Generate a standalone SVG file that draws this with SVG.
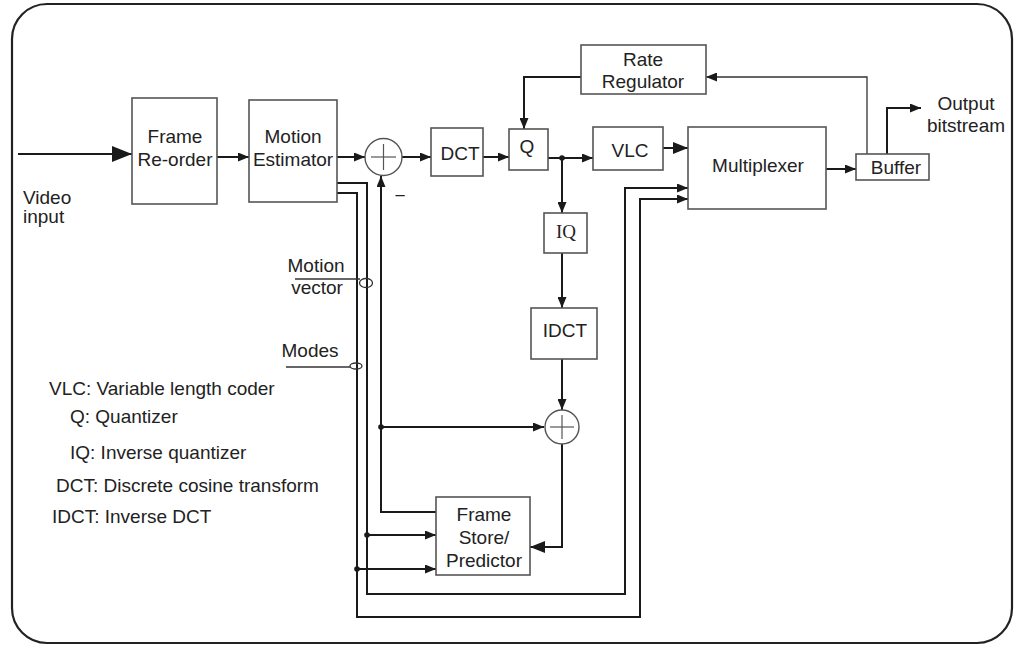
<svg xmlns="http://www.w3.org/2000/svg" width="1015" height="647" viewBox="0 0 1015 647">
<style>
text{font-family:"Liberation Sans",Arial,sans-serif;font-size:19px;fill:#222}
.c{text-anchor:middle}
.serif{font-family:"Liberation Serif","Times New Roman",serif}
.box{fill:#fff;stroke:#555;stroke-width:1.6}
.ln{fill:none;stroke:#1a1a1a;stroke-width:2}
.thin{fill:none;stroke:#333;stroke-width:1.3}
.sum{fill:#fff;stroke:#555;stroke-width:1.4}
.plus{stroke:#555;stroke-width:1.2}
</style>
<defs>
<marker id="a" markerUnits="userSpaceOnUse" markerWidth="11" markerHeight="9" refX="11" refY="4.5" orient="auto"><path d="M0,0 L11,4.5 L0,9 z" fill="#1a1a1a"/></marker>
<marker id="m" markerUnits="userSpaceOnUse" markerWidth="15" markerHeight="12" refX="15" refY="6" orient="auto"><path d="M0,0 L15,6 L0,12 z" fill="#1a1a1a"/></marker>
<marker id="A" markerUnits="userSpaceOnUse" markerWidth="20" markerHeight="16" refX="20" refY="8" orient="auto"><path d="M0,0 L20,8 L0,16 z" fill="#1a1a1a"/></marker>
</defs>
<rect x="12" y="4" width="1000" height="639" rx="35" ry="35" fill="#fff" stroke="#222" stroke-width="2.2"/>

<g id="connectors">
<line class="ln" x1="18" y1="154" x2="132" y2="154" marker-end="url(#A)"/>
<line class="ln" x1="217" y1="157" x2="249" y2="157" marker-end="url(#a)"/>
<line class="ln" x1="337" y1="157" x2="365" y2="157" marker-end="url(#a)"/>
<line class="ln" x1="402" y1="157" x2="431" y2="157" marker-end="url(#a)"/>
<line class="ln" x1="483" y1="157" x2="509" y2="157" marker-end="url(#a)"/>
<line class="ln" x1="548" y1="158" x2="593" y2="158" marker-end="url(#a)"/>
<circle cx="562" cy="158" r="2.8" fill="#1a1a1a"/>
<line class="ln" x1="562" y1="158" x2="562" y2="213" marker-end="url(#a)"/>
<line class="ln" x1="562" y1="253" x2="562" y2="308" marker-end="url(#a)"/>
<line class="ln" x1="562" y1="359" x2="562" y2="410" marker-end="url(#a)"/>
<polyline class="ln" points="562,444 562,547 530,547" marker-end="url(#m)"/>
<polyline class="ln" points="436,512 381,512 381,176" marker-end="url(#a)"/>
<circle cx="381" cy="427" r="2.8" fill="#1a1a1a"/>
<line class="ln" x1="381" y1="427" x2="544" y2="427" marker-end="url(#a)"/>
<polyline class="ln" points="337,183 367,183 367,594 625,594 625,188 688,188" marker-end="url(#a)"/>
<circle cx="367" cy="535" r="2.8" fill="#1a1a1a"/>
<line class="ln" x1="367" y1="535" x2="436" y2="535" marker-end="url(#a)"/>
<polyline class="ln" points="337,193 357,193 357,617 640,617 640,199 688,199" marker-end="url(#a)"/>
<circle cx="357" cy="569" r="2.8" fill="#1a1a1a"/>
<line class="ln" x1="357" y1="569" x2="436" y2="569" marker-end="url(#a)"/>
<line class="ln" x1="663" y1="148" x2="688" y2="148" marker-end="url(#m)"/>
<line class="ln" x1="826" y1="169" x2="856" y2="169" marker-end="url(#a)"/>
<polyline class="thin" points="867,154 867,77 706,77" marker-end="url(#a)"/>
<polyline class="ln" points="581,77 524,77 524,129" marker-end="url(#a)"/>
<polyline class="ln" points="887,154 887,108 921,108" marker-end="url(#a)"/>
<line class="thin" x1="295" y1="279" x2="360" y2="279"/>
<ellipse cx="366" cy="283" rx="6.5" ry="4.5" fill="none" stroke="#333" stroke-width="1.3"/>
<line class="thin" x1="286" y1="367" x2="350" y2="367"/>
<ellipse cx="356" cy="366" rx="6" ry="3" fill="none" stroke="#333" stroke-width="1.3"/>
</g>

<g id="input-label">
<text x="23" y="204">Video</text>
<text x="23" y="223">input</text>
</g>
<g id="frame-reorder">
<rect class="box" x="132" y="98" width="85" height="106"/>
<text class="c" x="175" y="143">Frame</text>
<text class="c" x="175" y="166">Re-order</text>
</g>
<g id="motion-estimator">
<rect class="box" x="249" y="100" width="88" height="102"/>
<text class="c" x="293" y="143">Motion</text>
<text class="c" x="293" y="166">Estimator</text>
</g>
<g id="sum1">
<circle class="sum" cx="383.5" cy="157" r="18.5"/>
<line class="plus" x1="371" y1="157" x2="396" y2="157"/>
<line class="plus" x1="383.5" y1="144" x2="383.5" y2="170"/>
<text class="c" x="400" y="202">−</text>
</g>
<g id="dct">
<rect class="box" x="431" y="128" width="52" height="48"/>
<text class="c" x="460" y="160">DCT</text>
</g>
<g id="q">
<rect class="box" x="509" y="129" width="39" height="41"/>
<text class="c" x="527" y="153">Q</text>
</g>
<g id="vlc">
<rect class="box" x="593" y="127" width="70" height="43"/>
<text class="c" x="630" y="157">VLC</text>
</g>
<g id="rate-regulator">
<rect class="box" x="581" y="45" width="125" height="49"/>
<text class="c" x="643" y="66">Rate</text>
<text class="c" x="643" y="88">Regulator</text>
</g>
<g id="multiplexer">
<rect class="box" x="688" y="127" width="138" height="82"/>
<text class="c" x="758" y="172">Multiplexer</text>
</g>
<g id="buffer">
<rect class="box" x="856" y="154" width="73" height="26"/>
<text class="c" x="896" y="174">Buffer</text>
</g>
<g id="output-label">
<text class="c" x="966" y="110">Output</text>
<text class="c" x="966" y="132">bitstream</text>
</g>
<g id="iq">
<rect class="box" x="544" y="213" width="43" height="40"/>
<text class="c serif" x="566" y="238">IQ</text>
</g>
<g id="idct">
<rect class="box" x="531" y="308" width="66" height="51"/>
<text class="c" x="565" y="337">IDCT</text>
</g>
<g id="sum2">
<circle class="sum" cx="562" cy="427" r="17"/>
<line class="plus" x1="550" y1="427" x2="574" y2="427"/>
<line class="plus" x1="562" y1="415" x2="562" y2="439"/>
</g>
<g id="frame-store">
<rect class="box" x="436" y="497" width="94" height="78"/>
<text class="c" x="484" y="521">Frame</text>
<text class="c" x="484" y="544">Store/</text>
<text class="c" x="484" y="567">Predictor</text>
</g>
<g id="signal-labels">
<text class="c" x="316" y="272">Motion</text>
<text class="c" x="317" y="294">vector</text>
<text class="c" x="310" y="357">Modes</text>
</g>
<g id="legend">
<text x="49" y="395">VLC: Variable length coder</text>
<text x="70" y="423">Q: Quantizer</text>
<text x="70" y="459">IQ: Inverse quantizer</text>
<text x="56" y="492">DCT: Discrete cosine transform</text>
<text x="52" y="523">IDCT: Inverse DCT</text>
</g>
</svg>
